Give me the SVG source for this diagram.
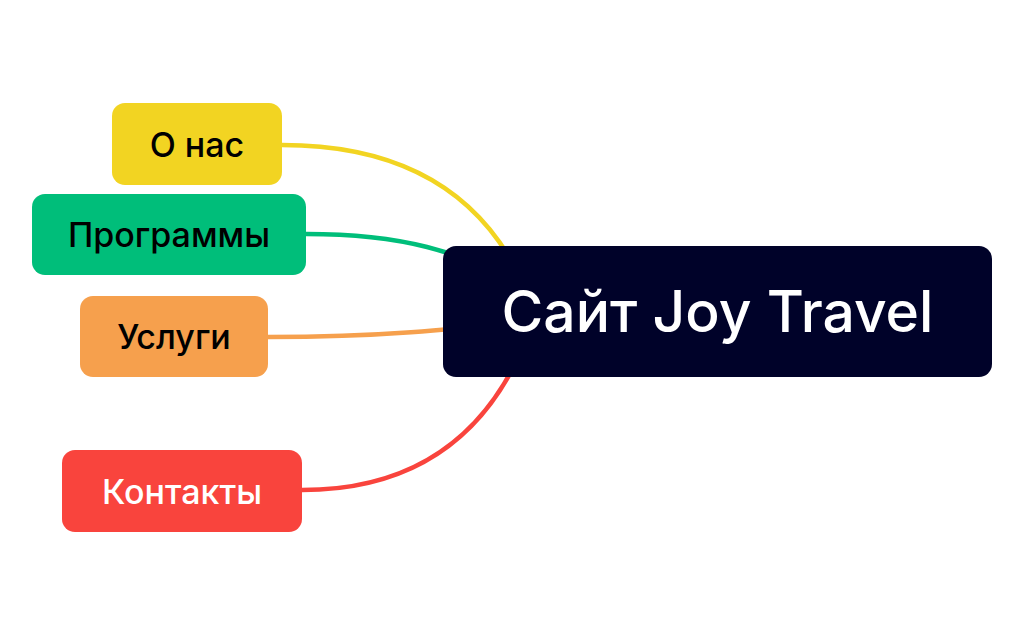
<svg xmlns="http://www.w3.org/2000/svg" width="1026" height="636" viewBox="0 0 1026 636">
<style>
.conn{fill:none;stroke-width:4.5;stroke-linecap:round}
.lbl{font-family:Inter,"Noto Sans","DejaVu Sans",sans-serif;font-size:34px;text-anchor:middle;font-weight:500}
.main{font-family:Inter,"Noto Sans","DejaVu Sans",sans-serif;font-size:57px;text-anchor:middle;fill:#fff;font-weight:500}
</style>
<rect width="1026" height="636" fill="#fff"/>
<g id="connectors">
<path class="conn" stroke="#F2D422" d="M 282 145 Q 470 145 530 300"/>
<path class="conn" stroke="#00BE7A" d="M 306 234 C 400 234 460 250 530 290"/>
<path class="conn" stroke="#F6A04D" d="M 268 337 C 380 337 450 330 530 320"/>
<path class="conn" stroke="#F9443D" d="M 302 490 Q 470 490 530 330"/>
</g>
<g id="node-about">
<rect x="112" y="103" width="170" height="82" rx="13" fill="#F2D422"/>
<text class="lbl" x="197" y="157" fill="#000">О нас</text>
</g>
<g id="node-programs">
<rect x="32" y="194" width="274" height="81" rx="13" fill="#00BE7A"/>
<text class="lbl" x="169" y="247" fill="#000">Программы</text>
</g>
<g id="node-services">
<rect x="80" y="296" width="188" height="81" rx="13" fill="#F6A04D"/>
<text class="lbl" x="174" y="349" fill="#000">Услуги</text>
</g>
<g id="node-contacts">
<rect x="62" y="450" width="240" height="82" rx="13" fill="#F9443D"/>
<text class="lbl" x="182" y="504" fill="#fff">Контакты</text>
</g>
<g id="node-main">
<rect x="443" y="246" width="549" height="131" rx="13" fill="#000229"/>
<text class="main" x="717.5" y="332">Сайт Joy Travel</text>
</g>
</svg>
